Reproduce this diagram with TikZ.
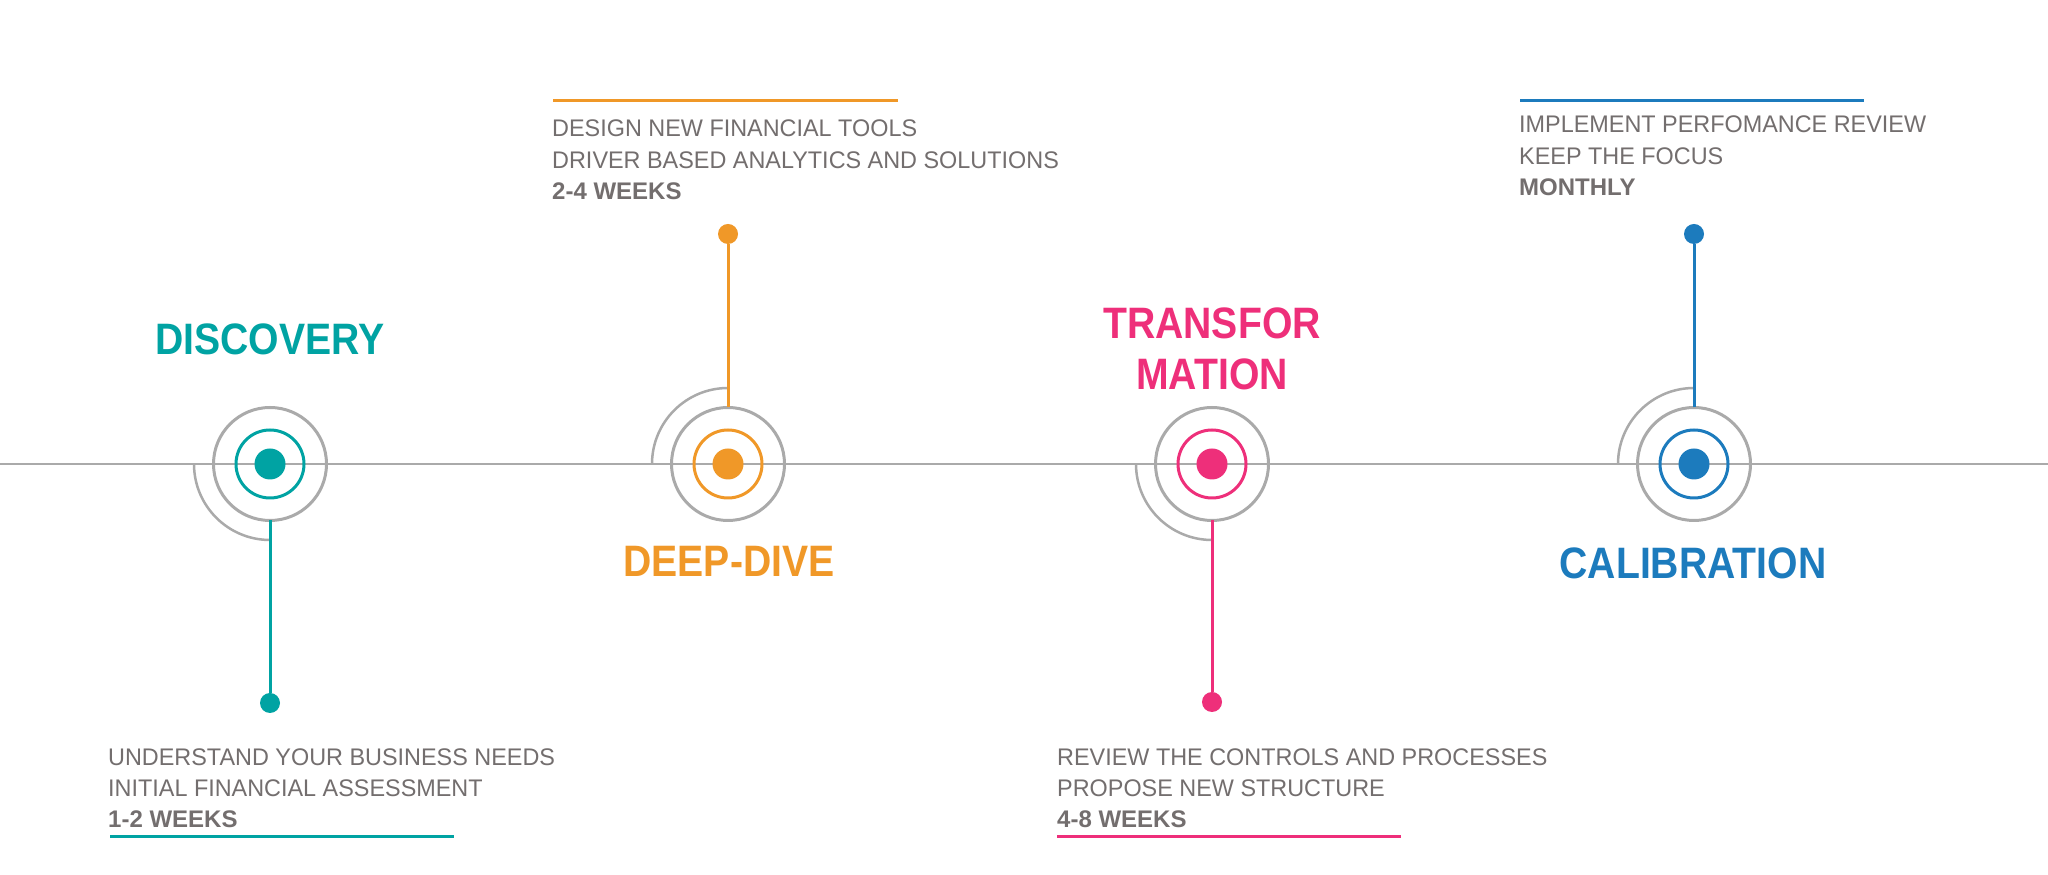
\documentclass[tikz,border=0pt]{standalone}
\usepackage{fontspec}
\setmainfont{Liberation Sans}
\newfontfamily\bodyfont[FakeStretch=0.975]{Liberation Sans}
\newfontfamily\headfont[FakeStretch=0.89]{Liberation Sans}
\begin{document}
\begin{tikzpicture}[x=1pt,y=1pt,
  ring/.style={circle,draw=ringgray,line width=3pt,minimum size=113pt,inner sep=0pt,outer sep=0pt},
  inring/.style={circle,draw=#1,line width=3pt,minimum size=68pt,inner sep=0pt,outer sep=0pt},
  core/.style={circle,fill=#1,minimum size=31pt,inner sep=0pt,outer sep=0pt},
  tip/.style={circle,fill=#1,minimum size=20pt,inner sep=0pt,outer sep=0pt},
  stem/.style={draw=#1,line width=3pt},
  arcline/.style={draw=ringgray,line width=2.5pt},
  rule/.style={draw=#1,line width=3pt},
  body/.style={anchor=base west,inner sep=0pt,text=txtgray,font=\bodyfont\fontsize{24}{30}\selectfont},
  bodyb/.style={anchor=base west,inner sep=0pt,text=txtgray,font=\fontsize{24}{30}\selectfont\bfseries},
  head/.style={anchor=base,inner sep=0pt,text=#1,font=\headfont\fontsize{44}{50}\selectfont\bfseries}]
\definecolor{ringgray}{RGB}{170,170,170}
\definecolor{txtgray}{RGB}{115,110,110}
\definecolor{cteal}{RGB}{0,163,163}
\definecolor{corange}{RGB}{240,152,40}
\definecolor{cpink}{RGB}{238,47,122}
\definecolor{cblue}{RGB}{28,123,189}
\useasboundingbox (0,0) rectangle (2048,875);
\fill[white] (0,0) rectangle (2048,875);
% timeline
\coordinate (L) at (0,411);
\coordinate (R) at (2048,411);
\draw[draw=ringgray,line width=2.5pt] (L) -- (R);
% partial arcs
\draw[arcline] (194,411) arc[start angle=180,end angle=270,radius=76];
\draw[arcline] (652,411) arc[start angle=180,end angle=90,radius=76];
\draw[arcline] (1136,411) arc[start angle=180,end angle=270,radius=76];
\draw[arcline] (1618,411) arc[start angle=180,end angle=90,radius=76];
% discovery
\node[ring] (r1) at (270,411) {};
\node[inring=cteal] (i1) at (270,411) {};
\node[core=cteal] (c1) at (270,411) {};
\node[tip=cteal] (t1) at (270,172) {};
\draw[stem=cteal] (r1.south) -- (t1);
% deep-dive
\node[ring] (r2) at (728,411) {};
\node[inring=corange] (i2) at (728,411) {};
\node[core=corange] (c2) at (728,411) {};
\node[tip=corange] (t2) at (728,641) {};
\draw[stem=corange] (r2.north) -- (t2);
% transformation
\node[ring] (r3) at (1212,411) {};
\node[inring=cpink] (i3) at (1212,411) {};
\node[core=cpink] (c3) at (1212,411) {};
\node[tip=cpink] (t3) at (1212,173) {};
\draw[stem=cpink] (r3.south) -- (t3);
% calibration
\node[ring] (r4) at (1694,411) {};
\node[inring=cblue] (i4) at (1694,411) {};
\node[core=cblue] (c4) at (1694,411) {};
\node[tip=cblue] (t4) at (1694,641) {};
\draw[stem=cblue] (r4.north) -- (t4);
% headings
\node[head=cteal] (h1) at (270,520) {DISCOVERY};
\node[head=corange] (h2) at (729,298) {DEEP-DIVE};
\node[head=cpink] (h3a) at (1212,536) {TRANSFOR};
\node[head=cpink] (h3b) at (1212,485) {MATION};
\node[head=cblue] (h4) at (1693,296) {CALIBRATION};
% discovery text
\node[body] (d1) at (108,109) {UNDERSTAND YOUR BUSINESS NEEDS};
\node[body] (d2) at (108,78) {INITIAL FINANCIAL ASSESSMENT};
\node[bodyb] (d3) at (108,47) {1-2 WEEKS};
\draw[rule=cteal] (110,38) -- (454,38);
% deep-dive text
\draw[rule=corange] (553,774) -- (898,774);
\node[body] (e1) at (552,738) {DESIGN NEW FINANCIAL TOOLS};
\node[body] (e2) at (552,706) {DRIVER BASED ANALYTICS AND SOLUTIONS};
\node[bodyb] (e3) at (552,675) {2-4 WEEKS};
% transformation text
\node[body] (f1) at (1057,109) {REVIEW THE CONTROLS AND PROCESSES};
\node[body] (f2) at (1057,78) {PROPOSE NEW STRUCTURE};
\node[bodyb] (f3) at (1057,47) {4-8 WEEKS};
\draw[rule=cpink] (1057,38) -- (1401,38);
% calibration text
\draw[rule=cblue] (1520,774) -- (1864,774);
\node[body] (g1) at (1519,742) {IMPLEMENT PERFOMANCE REVIEW};
\node[body] (g2) at (1519,710) {KEEP THE FOCUS};
\node[bodyb] (g3) at (1519,679) {MONTHLY};
\end{tikzpicture}
\end{document}
